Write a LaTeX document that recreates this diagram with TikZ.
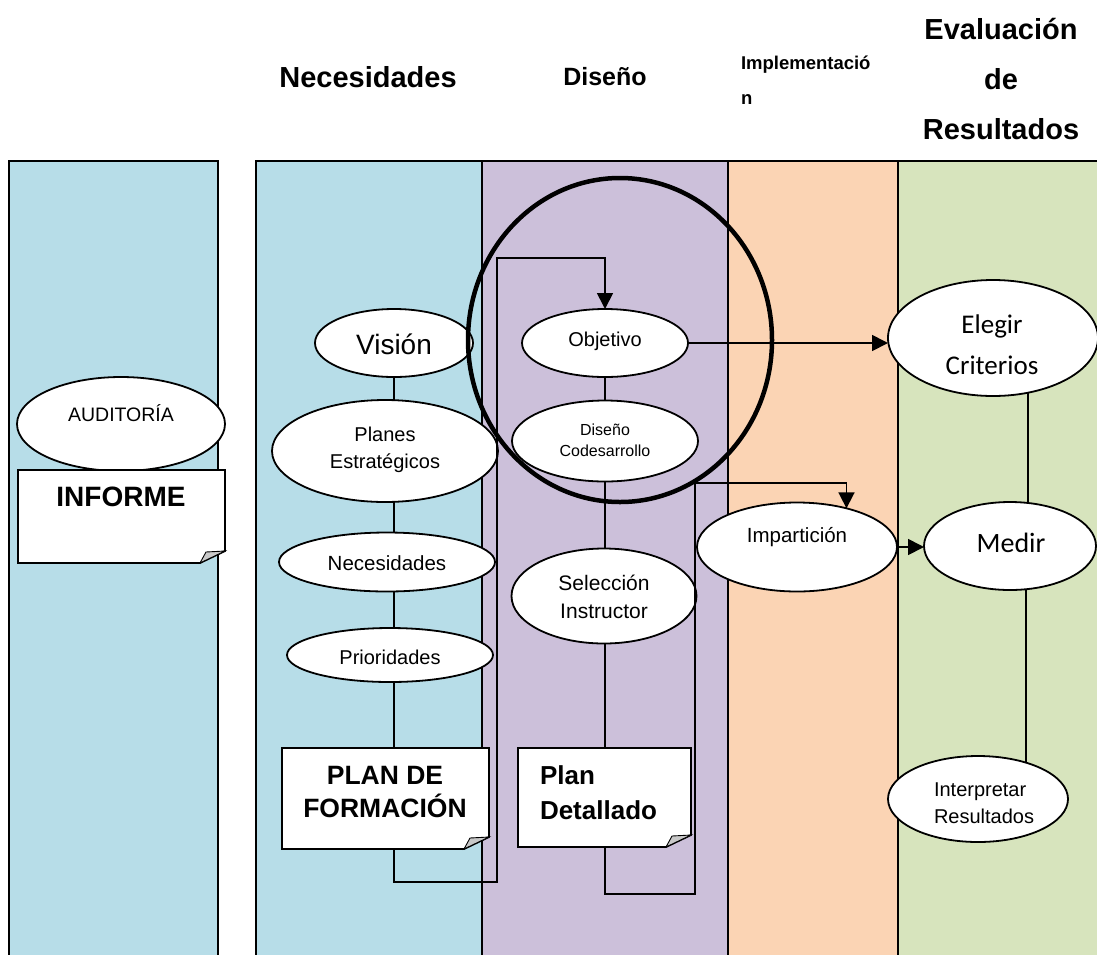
\documentclass[tikz,border=0pt]{standalone}
\usepackage{fontspec}
\setmainfont{Liberation Sans}
\newfontfamily\calib{Carlito}
\usetikzlibrary{shapes.geometric,arrows.meta,calc}
\pgfdeclarelayer{cols}
\pgfdeclarelayer{lines}
\pgfsetlayers{cols,lines,main}
\definecolor{cblue}{RGB}{183,221,232}
\definecolor{cpurp}{RGB}{204,192,218}
\definecolor{corng}{RGB}{251,212,180}
\definecolor{cgren}{RGB}{215,228,189}
\definecolor{cfold}{RGB}{200,200,200}
\newcommand\fsz[2]{\fontsize{#1pt}{#2pt}\selectfont}
\newcommand\foldbox[1]{%
  \draw[bx] (#1.north west) -- (#1.north east) -- ($(#1.south east)+(0,-12)$) -- ($(#1.south east)+(-25,0)$) -- (#1.south west) -- cycle;
  \draw[line width=0.9pt, fill=cfold] ($(#1.south east)+(-25,0)$) -- ($(#1.south east)+(-19,-11)$) -- ($(#1.south east)+(0,-12)$) -- cycle;}
\begin{document}
\begin{tikzpicture}[x=1pt,y=-1pt]
\tikzset{
 ln/.style={line width=1.7pt},
 arr/.style={line width=1.7pt, -{Triangle[length=16pt,width=16pt]}},
 ell/.style={ellipse, draw, fill=white, line width=1.8pt, inner sep=0pt, outer sep=0pt},
 bx/.style={draw, fill=white, line width=1.8pt},
 hole/.style={rectangle, inner sep=0pt, outer sep=0pt},
 tx/.style={inner sep=0pt, outer sep=0pt, align=center, text=black},
 hd/.style={inner sep=0pt, outer sep=0pt, align=center, text=black},
 col/.style={draw, line width=1.8pt}
}
\useasboundingbox (0,0) rectangle (1097,954);
\clip (0,0) rectangle (1097,954);

% columns
\begin{pgfonlayer}{cols}
\fill[white] (0,0) rectangle (1097,954);
\draw[col, fill=cblue] (9,161) rectangle (218,990);
\draw[col, fill=cblue] (256,161) rectangle (482,990);
\draw[col, fill=cpurp] (482,161) rectangle (728,990);
\draw[col, fill=corng] (728,161) rectangle (898,990);
\draw[col, fill=cgren] (898,161) rectangle (1110,990);
\end{pgfonlayer}

% headers
\node[hd, font=\fsz{29}{34}\bfseries] (hnec) at (368,77) {Necesidades};
\node[hd, font=\fsz{25}{30}\bfseries] (hdis) at (605,77) {Diseño};
\node[hd, anchor=west, align=left, font=\fsz{18.5}{35}\bfseries] (himp) at (741,80) {Implementació\\n};
\node[hd, font=\fsz{29}{50}\bfseries] (heva) at (1001,79) {Evaluación\\de\\Resultados};

% column 1
\node[ell, minimum width=208, minimum height=94] (aud) at (121,424) {};
\node[tx, font=\fsz{19.5}{23}] (audt) at (121,413) {AUDITORÍA};
\node[hole, minimum width=207, minimum height=93] (inf) at (121.5,516.5) {};
\foldbox{inf}
\node[tx, font=\fsz{28}{32}\bfseries] (inft) at (121,497) {INFORME};

% column 2
\node[ell, minimum width=158, minimum height=68] (vis) at (394,343) {};
\node[tx, font=\fsz{28}{32}] (vist) at (394,344) {Visión};
\node[ell, minimum width=226, minimum height=102] (pla) at (385,451) {};
\node[tx, font=\fsz{20}{27}] (plat) at (385,450) {Planes\\Estratégicos};
\node[ell, minimum width=216, minimum height=59] (nec) at (387,562) {};
\node[tx, font=\fsz{20.5}{24}] (nect) at (387,563) {Necesidades};
\node[ell, minimum width=206, minimum height=54] (pri) at (390,655) {};
\node[tx, font=\fsz{20}{24}] (prit) at (390,657) {Prioridades};
\node[hole, minimum width=207, minimum height=101] (pfm) at (385.5,798.5) {};
\foldbox{pfm}
\node[tx, font=\fsz{26.5}{33}\bfseries] (pfmt) at (385,791.5) {PLAN DE\\FORMACIÓN};

% column 3
\node[ell, minimum width=166, minimum height=68] (obj) at (605,343) {};
\node[tx, font=\fsz{20}{24}] (objt) at (605,341) {Objetivo};
\node[ell, minimum width=186, minimum height=81] (dco) at (605,441) {};
\node[tx, font=\fsz{16}{21}] (dcot) at (605,440.5) {Diseño\\Codesarrollo};
\node[ell, minimum width=185, minimum height=95] (sel) at (604,596) {};
\node[tx, font=\fsz{21}{28}] (selt) at (604,597) {Selección\\Instructor};
\node[hole, minimum width=173, minimum height=99] (pdt) at (604.5,797.5) {};
\foldbox{pdt}
\node[tx, anchor=west, align=left, font=\fsz{26}{35}\bfseries] (pdtt) at (540,792.5) {Plan\\Detallado};

% column 4
\node[ell, minimum width=200, minimum height=89] (imp) at (797,547) {};
\node[tx, font=\fsz{20.5}{24}] (impt) at (797,537) {Impartición};

% column 5
\node[ell, minimum width=210, minimum height=116] (eleg) at (993,338) {};
\node[tx, font=\calib\fsz{27}{41}] (elegt) at (992,345) {Elegir\\Criterios};
\node[ell, minimum width=172, minimum height=88] (med) at (1010,546) {};
\node[tx, font=\calib\fsz{28}{32}] (medt) at (1011,543) {Medir};
\node[ell, minimum width=180, minimum height=86] (int) at (978,799) {};
\node[tx, anchor=west, align=left, font=\fsz{20}{27}] (intt) at (934,803.5) {Interpretar\\Resultados};

% big ring
\node[ellipse, draw, line width=4.5pt, minimum width=304, minimum height=324, inner sep=0pt] (ring) at (620,340) {};

% connectors
\coordinate (fbA) at (394,882);
\coordinate (fbB) at (497,258);
\coordinate (fbC) at (695,894);
\coordinate (fbD) at (695,483);
\coordinate (ex) at (1028,338);
\coordinate (mx) at (1026,546);
\begin{pgfonlayer}{lines}
\draw[ln] (vis.center) -- (vis.center |- pfm.north);
\draw[ln] (obj.center) -- (obj.center |- pdt.north);
\draw[ln] (ex) -- (ex |- med.center);
\draw[ln] (mx) -- (mx |- int.center);
\end{pgfonlayer}
\draw[arr] (vis.center |- pfm.south) -- (fbA) -| (fbB) -| (obj.north);
\draw[arr] (obj.center |- pdt.south) |- (fbC) -- (fbD) -| (imp.38);
\draw[arr] (obj.east) -- (obj.east -| eleg.west);
\draw[arr] (imp.east) -- (imp.east -| med.west);
\end{tikzpicture}
\end{document}
